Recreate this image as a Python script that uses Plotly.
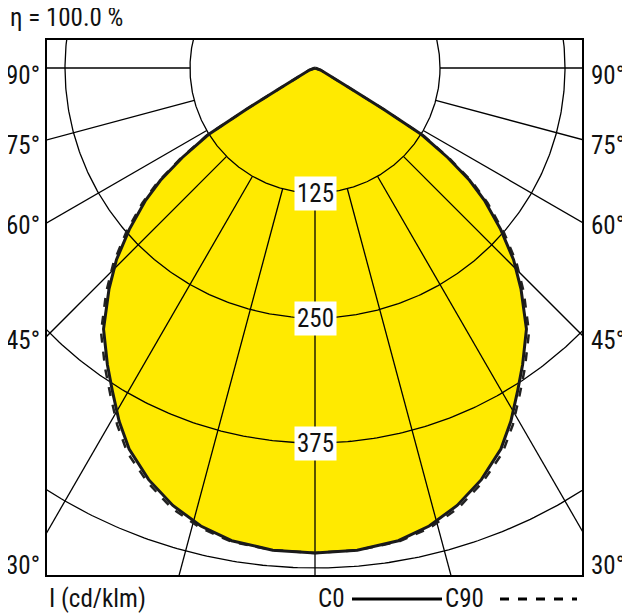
import numpy as np
import plotly.graph_objects as go

# Luminous intensity (cd/klm) vs gamma angle (deg from nadir)
gamma_c0 = [0, 5, 10, 14, 18, 22, 26, 29, 32, 35, 39, 43, 46, 49, 52, 54, 56, 58, 59, 60, 70, 90]
i_c0 = [485, 484, 480, 472, 460, 444, 424, 404, 382, 362, 336, 302, 276, 246, 215, 191, 160, 126, 80, 40, 6, 0]
gamma_c90 = [0, 5, 10, 14, 18, 22, 26, 29, 32, 35, 39, 43, 46, 49, 52, 54, 56, 58, 59, 60, 70, 90]
i_c90 = [485, 484, 481, 474, 463, 447, 428, 408, 386, 366, 340, 306, 280, 250, 219, 195, 163, 128, 80, 40, 6, 0]
radii = [125, 250, 375, 500]
ray_angles = [0, 15, 30, 45, 60, 75, 90]
ring_labels = ["125", "250", "375"]
angle_labels = ["90°", "75°", "60°", "45°", "30°"]
angle_label_px = [75, 145, 225, 340, 565]

FONT = "Liberation Sans Narrow, Roboto Condensed, Liberation Sans, Arial"
FS = 25
OX, OY = 8, 8  # page body offset

def curve(g, i):
    g = np.radians(np.array(g, float)); i = np.array(i, float)
    gx = np.concatenate([-(i * np.sin(g))[::-1], i * np.sin(g)])
    gy = np.concatenate([(-i * np.cos(g))[::-1], -i * np.cos(g)])
    return gx, gy

fig = go.Figure()
x0, y0 = curve(gamma_c0, i_c0)
fig.add_trace(go.Scatter(x=x0, y=y0, fill="toself", fillcolor="#ffea00",
                         line=dict(width=0, shape="spline"), mode="lines", hoverinfo="skip"))
t = np.linspace(0, 2 * np.pi, 721)
for r in radii:
    fig.add_trace(go.Scatter(x=r * np.cos(t), y=r * np.sin(t), mode="lines",
                             line=dict(color="black", width=1.3), hoverinfo="skip"))
for a in ray_angles:
    ar = np.radians(a)
    for s in ([1] if a == 0 else [-1, 1]):
        fig.add_trace(go.Scatter(x=[s * 125 * np.sin(ar), s * 900 * np.sin(ar)],
                                 y=[-125 * np.cos(ar), -900 * np.cos(ar)], mode="lines",
                                 line=dict(color="black", width=1.3), hoverinfo="skip"))
x9, y9 = curve(gamma_c90, i_c90)
fig.add_trace(go.Scatter(x=x9, y=y9, mode="lines", line=dict(color="#222", width=2.5, dash="dash"), hoverinfo="skip"))
fig.add_trace(go.Scatter(x=x0, y=y0, mode="lines", line=dict(color="#1a1a1a", width=3), hoverinfo="skip"))

def px(x): return (x - 47) / 535
def py(y): return (575 - y) / 535

ann = []
for r, lab in zip(radii, ring_labels):
    ann.append(dict(x=0, y=-r, text=lab, showarrow=False, bgcolor="white",
                    font=dict(size=FS, color="#111", family=FONT), borderpad=2))
for lab, yy in zip(angle_labels, angle_label_px):
    for xx in (23, 608):
        ann.append(dict(xref="paper", yref="paper", x=px(xx), y=py(yy), xanchor="center", yanchor="middle",
                        text=lab, showarrow=False, font=dict(size=FS, color="#111", family=FONT)))
ann.append(dict(xref="paper", yref="paper", x=px(8), y=py(18), xanchor="left", yanchor="middle",
                text="η = 100.0 %", showarrow=False, font=dict(size=FS, color="#111", family=FONT)))
for txt, xx in (("I (cd/klm)", 47), ("C0", 316), ("C90", 443)):
    ann.append(dict(xref="paper", yref="paper", x=px(xx), y=py(598), xanchor="left", yanchor="middle",
                    text=txt, showarrow=False, font=dict(size=FS, color="#111", family=FONT)))
shapes = [
    dict(type="line", xref="paper", yref="paper", x0=px(352), x1=px(442), y0=py(599), y1=py(599),
         line=dict(color="black", width=3)),
    dict(type="line", xref="paper", yref="paper", x0=px(500), x1=px(577), y0=py(599), y1=py(599),
         line=dict(color="black", width=3, dash="dash")),
]
fig.update_layout(width=630, height=616, margin=dict(l=47 - OX, r=48 + OX, t=40 - OY, b=41 + OY),
                  paper_bgcolor="white", plot_bgcolor="white", showlegend=False,
                  annotations=ann, shapes=shapes)
fig.update_xaxes(range=[-268, 267], showgrid=False, zeroline=False, showticklabels=False,
                 showline=True, linecolor="black", linewidth=2, mirror=True)
fig.update_yaxes(range=[-507, 28], showgrid=False, zeroline=False, showticklabels=False,
                 showline=True, linecolor="black", linewidth=2, mirror=True)
fig.write_html("out.html")
